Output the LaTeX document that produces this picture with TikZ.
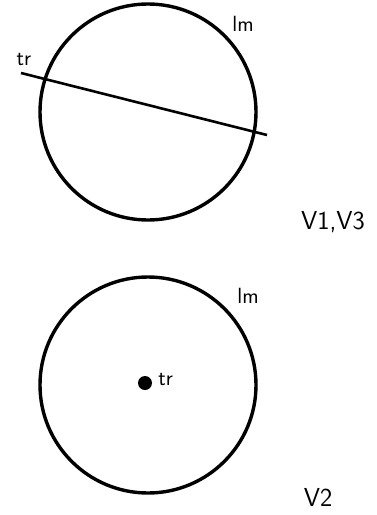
\documentclass[tikz,border=0pt]{standalone}
\usepackage{tikz}
\usetikzlibrary{positioning}

\begin{document}
\begin{tikzpicture}[
  x=1pt,y=-1pt,
  ring/.style={
    draw,
    circle,
    line width=3.4pt,
    minimum size=216pt,
    inner sep=0pt
  },
  lbl/.style={
    inner sep=0pt,
    font=\sffamily\fontsize{22}{26}\selectfont
  },
  viewlbl/.style={
    lbl,
    font=\sffamily\fontsize{26}{30}\selectfont
  },
  tracer/.style={line width=2.6pt}
]
\useasboundingbox (0,0) rectangle (377,515);

% V1, V3: track across the field
\node[ring] (topring) at (148,112) {};
\coordinate (trstart) at (21,73);
\coordinate (trend) at (267,135);
\draw[tracer] (trstart) -- (trend);
\node[lbl] (trtop) at (24,60) {tr};
\node[lbl] (lmtop) at (243,24) {lm};
\node[viewlbl] (vonethree) at (333,222) {V1,V3};

% V2: track seen end-on
\node[ring] (botring) at (148,385) {};
\node[circle,fill,minimum size=14pt,inner sep=0pt] (trdot) at (145,383) {};
\node[lbl,right=6pt of trdot,yshift=4pt] (trbot) {tr};
\node[lbl] (lmbot) at (248,296) {lm};
\node[viewlbl] (vtwo) at (318,497) {V2};
\end{tikzpicture}
\end{document}
